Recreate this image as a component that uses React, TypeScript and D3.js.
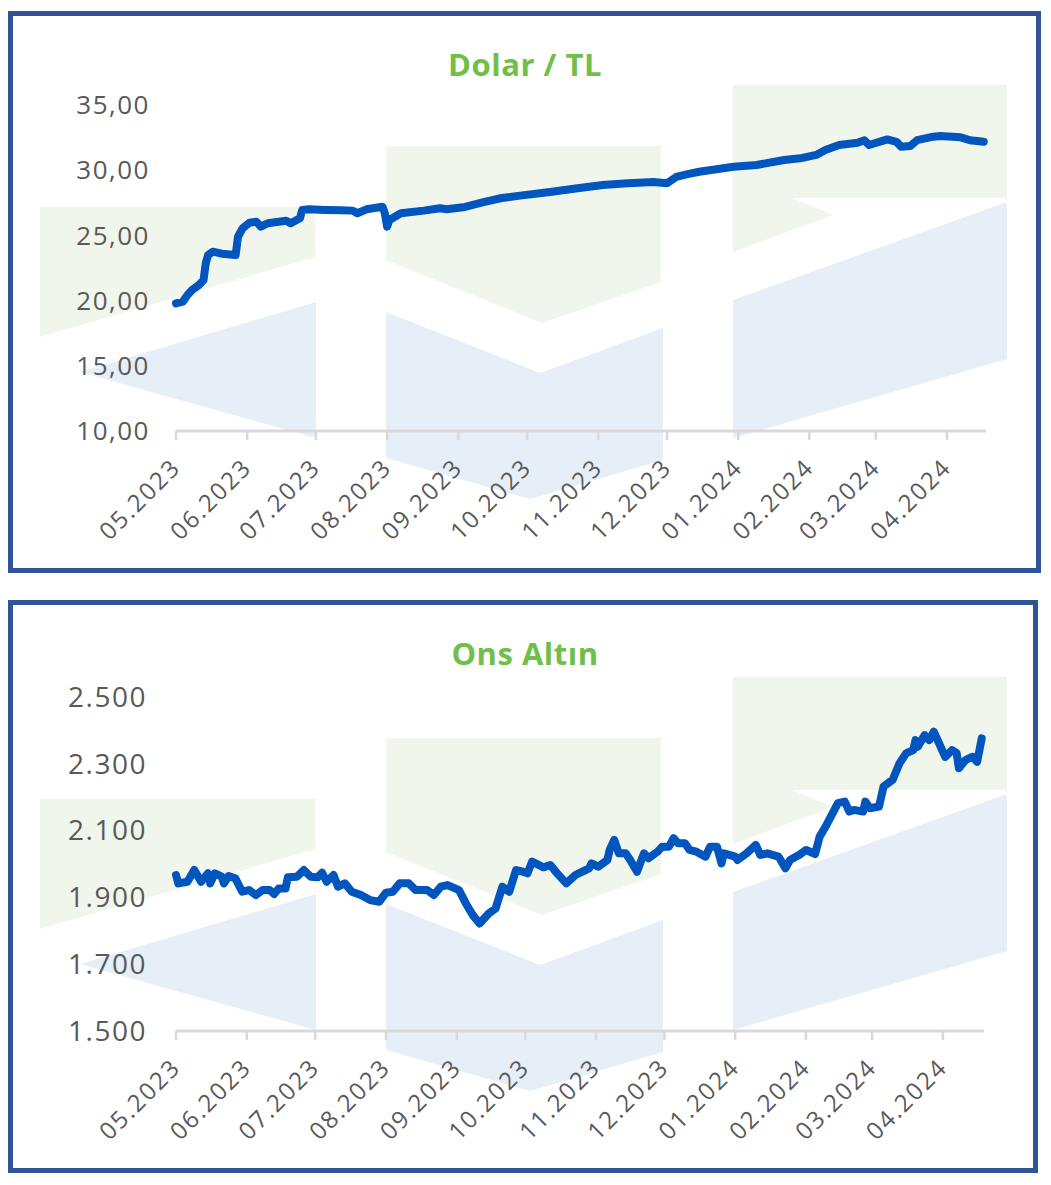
import React from "react";
import * as d3 from "d3";

// ---------- DATA ----------
const usdTitle = "Dolar / TL";
const goldTitle = "Ons Altın";

const usdDomain: [string, string] = ["2023-05-01", "2024-04-18"];
const goldDomain: [string, string] = ["2023-05-01", "2024-04-19"];

const usdTicks = [10, 15, 20, 25, 30, 35];
const goldTicks = [1500, 1700, 1900, 2100, 2300, 2500];

const usdSeries: [string, number][] = [
  ["2023-05-01", 19.79], ["2023-05-04", 19.92], ["2023-05-06", 20.43], ["2023-05-08", 20.81],
  ["2023-05-11", 21.2], ["2023-05-13", 21.58], ["2023-05-14", 22.9], ["2023-05-15", 23.5],
  ["2023-05-17", 23.75], ["2023-05-21", 23.6], ["2023-05-27", 23.5], ["2023-05-28", 24.9],
  ["2023-05-30", 25.54], ["2023-06-02", 25.97], ["2023-06-05", 26.05], ["2023-06-07", 25.67],
  ["2023-06-10", 25.93], ["2023-06-18", 26.13], ["2023-06-20", 25.93], ["2023-06-24", 26.31],
  ["2023-06-25", 26.95], ["2023-06-28", 27.0], ["2023-07-05", 26.95], ["2023-07-12", 26.92],
  ["2023-07-17", 26.9], ["2023-07-19", 26.7], ["2023-07-23", 27.0], ["2023-07-30", 27.2],
  ["2023-07-31", 26.7], ["2023-08-01", 25.67], ["2023-08-02", 26.18], ["2023-08-07", 26.7],
  ["2023-08-17", 26.9], ["2023-08-24", 27.08], ["2023-08-27", 27.0], ["2023-09-04", 27.18],
  ["2023-09-12", 27.55], ["2023-09-20", 27.87], ["2023-09-28", 28.05], ["2023-10-11", 28.33],
  ["2023-10-23", 28.62], ["2023-11-03", 28.87], ["2023-11-14", 29.0], ["2023-11-25", 29.1],
  ["2023-12-01", 29.0], ["2023-12-05", 29.48], ["2023-12-10", 29.7], ["2023-12-15", 29.88],
  ["2023-12-30", 30.27], ["2024-01-09", 30.4], ["2024-01-21", 30.78], ["2024-01-28", 30.91],
  ["2024-02-04", 31.17], ["2024-02-08", 31.55], ["2024-02-14", 31.93], ["2024-02-22", 32.11],
  ["2024-02-25", 32.3], ["2024-02-27", 31.93], ["2024-03-06", 32.36], ["2024-03-10", 32.18],
  ["2024-03-12", 31.8], ["2024-03-16", 31.85], ["2024-03-19", 32.3], ["2024-03-26", 32.57],
  ["2024-03-29", 32.62], ["2024-04-07", 32.52], ["2024-04-11", 32.3], ["2024-04-17", 32.18],
];

const goldSeries: [string, number][] = [
  ["2023-05-01", 1967], ["2023-05-02", 1942], ["2023-05-06", 1947], ["2023-05-09", 1982],
  ["2023-05-12", 1947], ["2023-05-15", 1972], ["2023-05-16", 1942], ["2023-05-18", 1972],
  ["2023-05-21", 1962], ["2023-05-22", 1942], ["2023-05-24", 1964], ["2023-05-27", 1957],
  ["2023-05-30", 1917], ["2023-06-02", 1922], ["2023-06-05", 1907], ["2023-06-08", 1922],
  ["2023-06-11", 1922], ["2023-06-13", 1910], ["2023-06-15", 1927], ["2023-06-18", 1927],
  ["2023-06-19", 1960], ["2023-06-23", 1962], ["2023-06-26", 1982], ["2023-06-29", 1962],
  ["2023-07-02", 1960], ["2023-07-04", 1974], ["2023-07-06", 1947], ["2023-07-09", 1967],
  ["2023-07-11", 1932], ["2023-07-14", 1942], ["2023-07-17", 1917], ["2023-07-21", 1907],
  ["2023-07-25", 1892], ["2023-07-29", 1887], ["2023-08-01", 1914], ["2023-08-04", 1917],
  ["2023-08-07", 1942], ["2023-08-11", 1942], ["2023-08-14", 1922], ["2023-08-19", 1922],
  ["2023-08-22", 1907], ["2023-08-25", 1932], ["2023-08-28", 1937], ["2023-09-02", 1922],
  ["2023-09-05", 1882], ["2023-09-08", 1847], ["2023-09-11", 1822], ["2023-09-15", 1852],
  ["2023-09-18", 1867], ["2023-09-21", 1932], ["2023-09-24", 1917], ["2023-09-27", 1982],
  ["2023-09-30", 1977], ["2023-10-02", 1972], ["2023-10-04", 2007], ["2023-10-09", 1990],
  ["2023-10-12", 1997], ["2023-10-15", 1972], ["2023-10-19", 1942], ["2023-10-23", 1967],
  ["2023-10-26", 1977], ["2023-10-29", 1987], ["2023-10-30", 2002], ["2023-11-02", 1992],
  ["2023-11-06", 2012], ["2023-11-07", 2042], ["2023-11-09", 2072], ["2023-11-11", 2032],
  ["2023-11-14", 2032], ["2023-11-16", 2012], ["2023-11-19", 1977], ["2023-11-22", 2032],
  ["2023-11-24", 2017], ["2023-11-28", 2037], ["2023-11-30", 2052], ["2023-12-03", 2052],
  ["2023-12-05", 2077], ["2023-12-07", 2062], ["2023-12-10", 2062], ["2023-12-12", 2042],
  ["2023-12-15", 2037], ["2023-12-19", 2022], ["2023-12-21", 2052], ["2023-12-24", 2052],
  ["2023-12-26", 2002], ["2023-12-27", 2032], ["2024-01-01", 2022], ["2024-01-02", 2012],
  ["2024-01-06", 2032], ["2024-01-10", 2057], ["2024-01-12", 2027], ["2024-01-15", 2032],
  ["2024-01-20", 2022], ["2024-01-23", 1987], ["2024-01-25", 2012], ["2024-01-29", 2027],
  ["2024-02-01", 2042], ["2024-02-05", 2030], ["2024-02-07", 2082], ["2024-02-10", 2117],
  ["2024-02-15", 2182], ["2024-02-18", 2187], ["2024-02-20", 2157], ["2024-02-22", 2162],
  ["2024-02-26", 2157], ["2024-02-27", 2187], ["2024-02-29", 2167], ["2024-03-04", 2172],
  ["2024-03-06", 2232], ["2024-03-10", 2252], ["2024-03-13", 2302], ["2024-03-16", 2332],
  ["2024-03-19", 2341], ["2024-03-20", 2371], ["2024-03-21", 2351], ["2024-03-24", 2386],
  ["2024-03-26", 2371], ["2024-03-28", 2396], ["2024-04-02", 2321], ["2024-04-05", 2341],
  ["2024-04-07", 2332], ["2024-04-08", 2287], ["2024-04-11", 2312], ["2024-04-14", 2321],
  ["2024-04-16", 2306], ["2024-04-18", 2376],
];

// ---------- STYLE / LAYOUT ----------
const W = 1051;
const H = 1185;
const FONT = "'Open Sans', 'DejaVu Sans', sans-serif";
const LINE_COLOR = "#0055BF";
const TITLE_COLOR = "#70BF4A";
const LABEL_COLOR = "#595959";
const AXIS_COLOR = "#D9D9D9";
const BORDER_COLOR = "#2F5597";
const WM_GREEN = "#F1F6EC";
const WM_BLUE = "#E6EEF7";

// decorative watermark logo (panel-local coordinates)
const wmGreen: number[][][] = [
  [[40, 207], [315, 207], [315, 257], [40, 337]],
  [[386, 146], [661, 146], [661, 282], [542, 323], [386, 260]],
  [[733, 85], [1007, 85], [1007, 198], [792, 198], [833, 215], [733, 252]],
];
const wmBlue: number[][][] = [
  [[80, 372], [316, 302], [316, 438]],
  [[386, 312], [540, 373], [663, 328], [663, 460], [530, 499], [386, 458]],
  [[733, 300], [1007, 202], [1007, 359], [733, 438]],
];

const locale = d3.formatLocale({ decimal: ",", thousands: ".", grouping: [3], currency: ["", ""] });
const parse = d3.utcParse("%Y-%m-%d");
const monthFmt = d3.utcFormat("%m.%Y");

type PanelProps = {
  title: string;
  series: [string, number][];
  domain: [string, string];
  ticks: number[];
  fmt: (n: number) => string;
  border: { x: number; y: number; w: number; h: number };
  wmOffset: number;
  titleY: number;
  xRange: [number, number];
  yRange: [number, number];
  yLabelX: number;
  yLabelSize: number;
};

function Panel(p: PanelProps) {
  const x = d3.scaleUtc().domain(p.domain.map((d) => parse(d) as Date)).range(p.xRange);
  const y = d3.scaleLinear().domain([p.ticks[0], p.ticks[p.ticks.length - 1]]).range(p.yRange);
  const line = d3
    .line<[string, number]>()
    .x((d) => x(parse(d[0]) as Date))
    .y((d) => y(d[1]))
    .curve(d3.curveLinear);
  const months = x.ticks(d3.utcMonth.every(1) as any).filter((d) => d.getUTCDate() === 1);
  const axisY = y(p.ticks[0]);
  const poly = (pts: number[][]) => pts.map((q) => `${q[0]},${q[1] + p.wmOffset}`).join(" ");
  return (
    <g>
      <rect x={p.border.x} y={p.border.y} width={p.border.w} height={p.border.h} fill="#fff" />
      {wmGreen.map((pts, i) => (
        <polygon key={"g" + i} points={poly(pts)} fill={WM_GREEN} />
      ))}
      {wmBlue.map((pts, i) => (
        <polygon key={"b" + i} points={poly(pts)} fill={WM_BLUE} />
      ))}
      <text
        x={525}
        y={p.titleY}
        textAnchor="middle"
        fontFamily={FONT}
        fontWeight={700}
        fontSize={31}
        letterSpacing={0.5}
        fill={TITLE_COLOR}
      >
        {p.title}
      </text>
      {p.ticks.map((t) => (
        <text
          key={t}
          x={p.yLabelX}
          y={y(t) + p.yLabelSize * 0.35}
          textAnchor="end"
          fontFamily={FONT}
          fontSize={p.yLabelSize}
          letterSpacing={1.5}
          fill={LABEL_COLOR}
        >
          {p.fmt(t)}
        </text>
      ))}
      <line x1={p.xRange[0]} x2={p.xRange[1]} y1={axisY} y2={axisY} stroke={AXIS_COLOR} strokeWidth={3} />
      {months.map((m) => (
        <g key={m.toISOString()}>
          <line x1={x(m)} x2={x(m)} y1={axisY} y2={axisY + 9} stroke={AXIS_COLOR} strokeWidth={2.5} />
          <text
            transform={`translate(${x(m) + 6},${axisY + 38}) rotate(-45)`}
            textAnchor="end"
            fontFamily={FONT}
            fontSize={24}
            letterSpacing={2}
            fill={LABEL_COLOR}
          >
            {monthFmt(m)}
          </text>
        </g>
      ))}
      <path
        d={line(p.series) || ""}
        fill="none"
        stroke={LINE_COLOR}
        strokeWidth={8}
        strokeLinejoin="round"
        strokeLinecap="round"
      />
      <rect
        x={p.border.x}
        y={p.border.y}
        width={p.border.w}
        height={p.border.h}
        fill="none"
        stroke={BORDER_COLOR}
        strokeWidth={5}
      />
    </g>
  );
}

export default function App() {
  return (
    <svg
      width={W}
      height={H}
      viewBox={`0 0 ${W} ${H}`}
      style={{ position: "absolute", left: 0, top: 0, background: "#fff" }}
    >
      <rect width={W} height={H} fill="#fff" />
      <Panel
        title={usdTitle}
        series={usdSeries}
        domain={usdDomain}
        ticks={usdTicks}
        fmt={locale.format(".2f")}
        border={{ x: 10.5, y: 13.5, w: 1028, h: 557 }}
        wmOffset={0}
        titleY={76}
        xRange={[176, 986]}
        yRange={[431, 105]}
        yLabelX={150}
        yLabelSize={26}
      />
      <Panel
        title={goldTitle}
        series={goldSeries}
        domain={goldDomain}
        ticks={goldTicks}
        fmt={locale.format(",.0f")}
        border={{ x: 10.5, y: 602.5, w: 1025, h: 568 }}
        wmOffset={592}
        titleY={665}
        xRange={[176, 984]}
        yRange={[1031, 697]}
        yLabelX={147}
        yLabelSize={28}
      />
    </svg>
  );
}
